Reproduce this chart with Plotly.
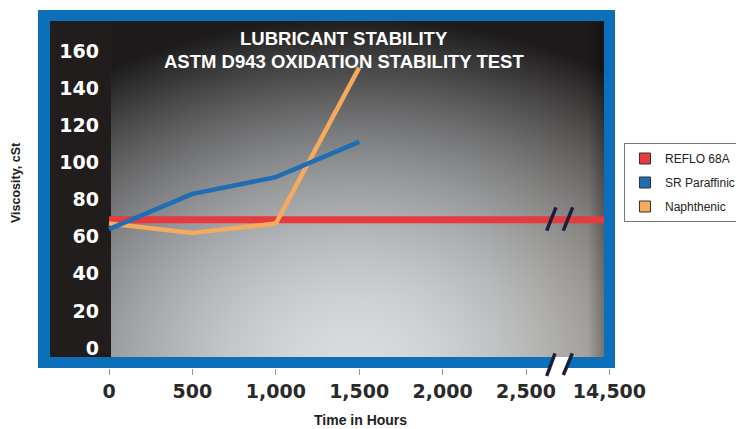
import base64
import struct
import zlib

import numpy as np
import plotly.graph_objects as go

# ---------------- data ----------------
tick_hours = [0, 500, 1000, 1500, 2000, 2500, 14500]
tick_labels = ["0", "500", "1,000", "1,500", "2,000", "2,500", "14,500"]
y_ticks = [0, 20, 40, 60, 80, 100, 120, 140, 160]

reflo_hours = [0, 14500]
reflo_visc = [69, 69]

paraffinic_hours = [0, 500, 1000, 1500]
paraffinic_visc = [64, 83, 92, 111]

naphthenic_hours = [0, 500, 1000, 1500]
naphthenic_visc = [67, 62, 67, 151]

series_names = ["REFLO 68A", "SR Paraffinic", "Naphthenic"]
series_colors = ["#e63a3f", "#1f6db4", "#f5aa5c"]

# ---------------- geometry (pixels) ----------------
W, H = 736, 429
L, R, T, B = 104, 615, 10, 368          # plot area
X0PX, XPX500 = 109, 83.4                 # pixel of x=0, pixels per 500 units
Y0PX, YPX1 = 348, 1.857                  # pixel of y=0, pixels per unit


def pxx(p):
    return (p - L) / (R - L)


def pxy(q):
    return (B - q) / (B - T)


def xval(p):
    return (p - X0PX) * 500.0 / XPX500


def yval(q):
    return (Y0PX - q) / YPX1


tick_pos = [i * 500 for i in range(len(tick_hours))]


def to_axis(hours):
    return list(np.interp(hours, tick_hours, tick_pos))


# ---------------- gradient background image ----------------
def png_data_uri(arr):
    h, w, _ = arr.shape
    raw = b"".join(b"\x00" + arr[i].tobytes() for i in range(h))

    def chunk(tag, data):
        c = struct.pack(">I", len(data)) + tag + data
        return c + struct.pack(">I", zlib.crc32(tag + data) & 0xFFFFFFFF)

    png = (b"\x89PNG\r\n\x1a\n"
           + chunk(b"IHDR", struct.pack(">IIBBBBB", w, h, 8, 2, 0, 0, 0))
           + chunk(b"IDAT", zlib.compress(raw, 9))
           + chunk(b"IEND", b""))
    return "data:image/png;base64," + base64.b64encode(png).decode()


gx0, gx1, gy0, gy1 = 111, 604, 21, 357
xs = np.arange(gx0, gx1) + 0.5
ys = np.arange(gy0, gy1) + 0.5
XX, YY = np.meshgrid(xs, ys)
t = np.sqrt(((XX - 355) / 470.0) ** 2 + ((YY - 362) / 345.0) ** 2)
f = np.clip(t, 0, 1) ** 1.7
c_in = np.array([216, 220, 223], dtype=float)
c_out = np.array([28, 26, 26], dtype=float)
img = c_in[None, None, :] * (1 - f[..., None]) + c_out[None, None, :] * f[..., None]
warm = np.clip((XX - 470) / 140.0, 0, 1) * (1 - f)
img[..., 0] += 8 * warm
img[..., 2] -= 10 * warm
edge = np.clip((XX - 588) / 16.0, 0, 1)
img *= (1 - 0.25 * edge[..., None])
img = np.clip(img, 0, 255).astype(np.uint8)
grad_uri = png_data_uri(img)

# ---------------- figure ----------------
fig = go.Figure()

widths = [7, 4.5, 4.5]
line_data = [
    (reflo_hours, reflo_visc, 0),
    (naphthenic_hours, naphthenic_visc, 2),
    (paraffinic_hours, paraffinic_visc, 1),
]
for hrs, vals, idx in line_data:
    fig.add_trace(go.Scatter(
        x=to_axis(hrs), y=vals, mode="lines",
        line=dict(color=series_colors[idx], width=widths[idx]),
        showlegend=False, hoverinfo="skip", name=series_names[idx]))

for i, (name, col) in enumerate(zip(series_names, series_colors)):
    fig.add_trace(go.Scatter(
        x=[None], y=[None], mode="markers", name=name, legendgroup=f"g{i}",
        marker=dict(symbol="square", size=11, color=col,
                    line=dict(color="#333333", width=1))))

shapes = []
# blue frame and dark inner panel
shapes.append(dict(type="rect", xref="paper", yref="paper", layer="below",
                   x0=pxx(38), x1=pxx(615), y0=pxy(368), y1=pxy(10),
                   fillcolor="#0b6fba", line=dict(width=0)))
shapes.append(dict(type="rect", xref="paper", yref="paper", layer="below",
                   x0=pxx(50), x1=pxx(604), y0=pxy(357), y1=pxy(21),
                   fillcolor="#211d1d", line=dict(width=0)))
# grid lines
for v in y_ticks[1:]:
    shapes.append(dict(type="line", xref="paper", yref="y", layer="between",
                       x0=pxx(111), x1=pxx(600), y0=v, y1=v,
                       line=dict(color="rgba(235,235,235,0.6)", width=1)))
# right border above the data
shapes.append(dict(type="rect", xref="paper", yref="paper", layer="above",
                   x0=pxx(604), x1=pxx(615), y0=pxy(368), y1=pxy(10),
                   fillcolor="#0b6fba", line=dict(width=0)))
# white gap in the bottom border
gap = [(553.6, 357), (570.8, 357), (566.2, 368.5), (549.6, 368.5)]
path = "M " + " L ".join(f"{pxx(a):.5f},{pxy(b):.5f}" for a, b in gap) + " Z"
shapes.append(dict(type="path", xref="paper", yref="paper", layer="above",
                   path=path, fillcolor="white", line=dict(width=0)))
# break slashes
slashes = [((546.7, 230.7), (556.0, 207.3)), ((563.3, 230.7), (572.7, 207.3)),
           ((546.7, 376.0), (555.0, 353.3)), ((563.3, 375.0), (572.3, 353.3))]
for (a0, b0), (a1, b1) in slashes:
    shapes.append(dict(type="line", xref="paper", yref="paper", layer="above",
                       x0=pxx(a0), y0=pxy(b0), x1=pxx(a1), y1=pxy(b1),
                       line=dict(color="#1a2038", width=3.5)))

annotations = [
    dict(text="LUBRICANT STABILITY", x=pxx(344), y=pxy(38)),
    dict(text="ASTM D943 OXIDATION STABILITY TEST", x=pxx(344), y=pxy(62)),
]
for a in annotations:
    a.update(xref="paper", yref="paper", showarrow=False,
             xanchor="center", yanchor="middle",
             font=dict(family="Liberation Sans, Arial", size=18.5,
                       color="white", weight="bold"))
annotations.append(dict(text="Viscosity, cSt", x=pxx(16), y=pxy(183),
                        xref="paper", yref="paper", showarrow=False,
                        textangle=-90, xanchor="center", yanchor="middle",
                        font=dict(family="Liberation Sans, Arial",
                                  size=12.5, color="#222222", weight="bold")))
annotations.append(dict(text="Time in Hours", x=pxx(360), y=pxy(420),
                        xref="paper", yref="paper", showarrow=False,
                        xanchor="center", yanchor="middle",
                        font=dict(family="Liberation Sans, Arial",
                                  size=14, color="#222222", weight="bold")))

fig.update_layout(
    width=W, height=H,
    margin=dict(l=L, r=W - R, t=T, b=H - B, pad=0, autoexpand=False),
    paper_bgcolor="white", plot_bgcolor="rgba(0,0,0,0)",
    shapes=shapes, annotations=annotations,
    images=[dict(source=grad_uri, xref="x", yref="y",
                 x=xval(gx0), y=yval(gy0),
                 sizex=xval(gx1) - xval(gx0), sizey=yval(gy0) - yval(gy1),
                 xanchor="left", yanchor="top", sizing="stretch",
                 layer="below")],
    legend=dict(x=pxx(624), y=pxy(143), xanchor="left", yanchor="top",
                bgcolor="white", bordercolor="#777777", borderwidth=1,
                tracegroupgap=5,
                font=dict(family="Liberation Sans, Arial", size=12, color="#222222")),
    showlegend=True,
)

fig.update_xaxes(range=[xval(L), xval(R)], tickvals=tick_pos, ticktext=tick_labels,
                 ticks="outside", ticklen=6, tickcolor="#999999", tickwidth=1,
                 showgrid=False, zeroline=False, showline=False,
                 tickfont=dict(family="DejaVu Sans", size=19, color="#2a2a2a",
                               weight="bold"))
fig.update_yaxes(range=[yval(B), yval(T)], tickvals=y_ticks,
                 ticks="", showgrid=False, zeroline=False, showline=False,
                 ticklabelstandoff=4,
                 tickfont=dict(family="DejaVu Sans", size=19, color="white",
                               weight="bold"))

fig.write_html("out.html",
               config={"displayModeBar": False},
               post_script="document.body.style.margin='0';"
                           "document.body.style.overflow='hidden';")
